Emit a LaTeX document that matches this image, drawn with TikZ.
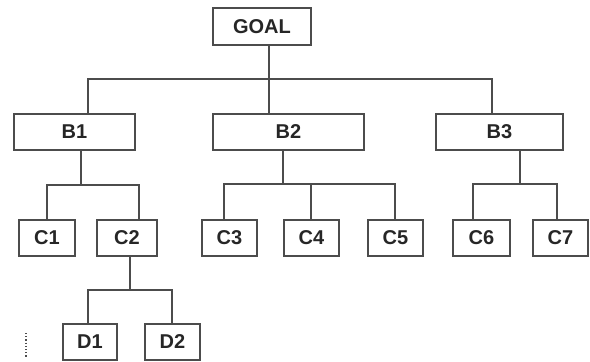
\documentclass[tikz,border=0pt]{standalone}
\usepackage{fontspec}
\setmainfont{Liberation Sans}
\begin{document}
\begin{tikzpicture}[x=1pt,y=-1pt,
  treebox/.style={draw=black!70,line width=1.3pt,inner sep=0pt,minimum height=36pt,
    font=\fontsize{20}{24}\selectfont\bfseries,text=black!85},
  treeline/.style={draw=black!70,line width=1.3pt}]
\useasboundingbox (0,0) rectangle (590,362);
% boxes
\node[treebox,minimum width=98pt,minimum height=37pt] (goal) at (262,26.5) {GOAL};
\node[treebox,minimum width=121pt] (b1) at (74.5,132) {B1};
\node[treebox,minimum width=151pt] (b2) at (288.5,132) {B2};
\node[treebox,minimum width=127pt] (b3) at (499.5,132) {B3};
\node[treebox,minimum width=56pt] (c1) at (47,238) {C1};
\node[treebox,minimum width=60pt] (c2) at (127,238) {C2};
\node[treebox,minimum width=55pt] (c3) at (229.5,238) {C3};
\node[treebox,minimum width=55pt] (c4) at (311.5,238) {C4};
\node[treebox,minimum width=55pt] (c5) at (395.5,238) {C5};
\node[treebox,minimum width=57pt] (c6) at (481.5,238) {C6};
\node[treebox,minimum width=55pt] (c7) at (560.5,238) {C7};
\node[treebox,minimum width=54pt] (d1) at (90,342) {D1};
\node[treebox,minimum width=55pt] (d2) at (172.5,342) {D2};
% bus junctions
\coordinate (gbus) at (269,79);
\coordinate (b1bus) at (81,185);
\coordinate (b2bus) at (283,184);
\coordinate (b3bus) at (520,184);
\coordinate (c2bus) at (130,290);
% connectors
\draw[treeline] (goal.south -| gbus) -- (gbus);
\draw[treeline] ([xshift=13.5]b1.north) |- (gbus) -| ([xshift=-7.5]b3.north);
\draw[treeline] (b2.north -| gbus) -- (gbus);
\draw[treeline] (b1.south -| b1bus) -- (b1bus);
\draw[treeline] (c1.north) |- (b1bus) -| ([xshift=12]c2.north);
\draw[treeline] (b2.south -| b2bus) -- (b2bus);
\draw[treeline] ([xshift=-5.5]c3.north) |- (b2bus) -| ([xshift=-0.5]c5.north);
\draw[treeline] ([xshift=-0.5]c4.north) -- ([xshift=-0.5]c4.north |- b2bus);
\draw[treeline] (b3.south -| b3bus) -- (b3bus);
\draw[treeline] ([xshift=-8.5]c6.north) |- (b3bus) -| ([xshift=-3.5]c7.north);
\draw[treeline] (c2.south -| c2bus) -- (c2bus);
\draw[treeline] ([xshift=-2]d1.north) |- (c2bus) -| ([xshift=-0.5]d2.north);
% stray dots
\draw[black!70,line width=1.2pt,dotted] (26,333) -- (26,358);
\end{tikzpicture}
\end{document}
